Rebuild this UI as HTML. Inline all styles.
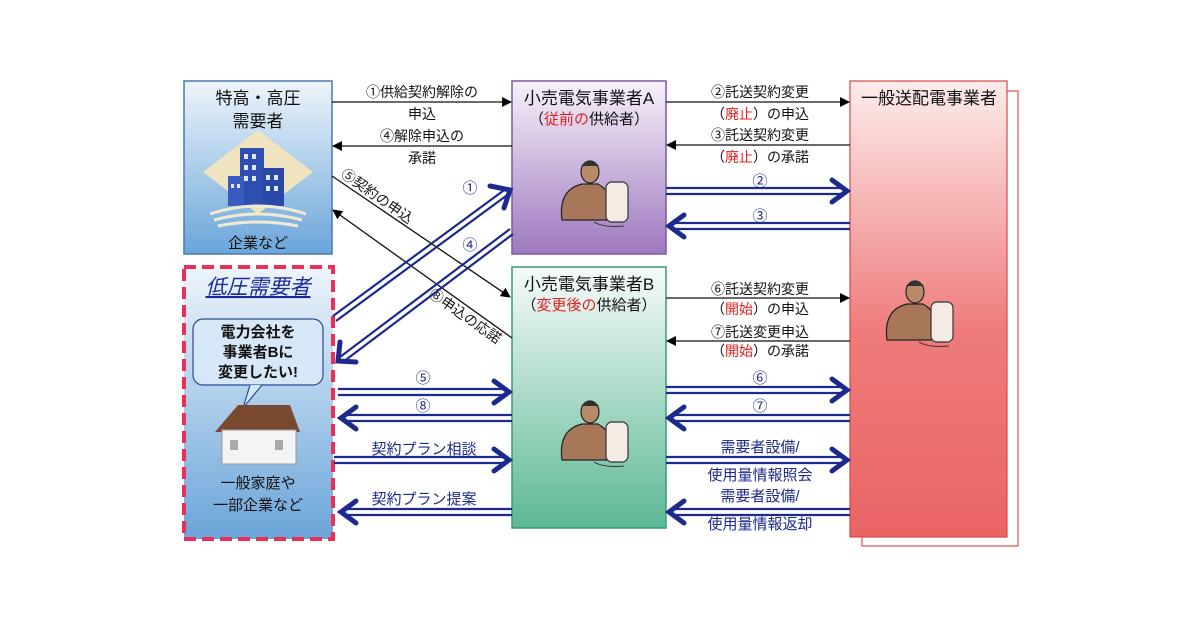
<!DOCTYPE html>
<html><head><meta charset="utf-8"><style>
html,body{margin:0;padding:0;background:#fff;width:1200px;height:630px;overflow:hidden}
svg{display:block}
text{font-family:"Liberation Sans","Noto Sans CJK JP",sans-serif}
</style></head><body>
<svg width="1200" height="630" viewBox="0 0 1200 630" xmlns="http://www.w3.org/2000/svg">
<defs>
<linearGradient id="gBlue" x1="0" y1="0" x2="0" y2="1"><stop offset="0" stop-color="#eef5fb"/><stop offset="1" stop-color="#6aa5da"/></linearGradient>
<linearGradient id="gPur" x1="0" y1="0" x2="0" y2="1"><stop offset="0" stop-color="#f7f2fa"/><stop offset="1" stop-color="#9e78bf"/></linearGradient>
<linearGradient id="gGrn" x1="0" y1="0" x2="0" y2="1"><stop offset="0" stop-color="#f6fbf9"/><stop offset="1" stop-color="#5cb894"/></linearGradient>
<linearGradient id="gRed" x1="0" y1="0" x2="0" y2="1"><stop offset="0" stop-color="#fdecec"/><stop offset="0.55" stop-color="#ef7b7b"/><stop offset="1" stop-color="#ea6464"/></linearGradient>
<marker id="ah" markerWidth="10" markerHeight="10" refX="9" refY="5" orient="auto" markerUnits="userSpaceOnUse"><path d="M0,0 L10,5 L0,10 z" fill="#000"/></marker>
<g id="person">
<ellipse cx="0" cy="-28" rx="9" ry="11" fill="#b88a68" stroke="#222" stroke-width="1.2"/>
<path d="M-9,-34 q9,-10 18,0" fill="#333"/>
<path d="M-28,20 q-4,-30 20,-36 l16,0 q18,10 14,36 z" fill="#a8775a" stroke="#222" stroke-width="1.2"/>
<rect x="16" y="-18" width="22" height="40" rx="6" fill="#f4ece4" stroke="#333" stroke-width="1.2"/>
<path d="M4,22 q10,6 30,4" fill="none" stroke="#333" stroke-width="1"/>
</g>
</defs>

<rect x="184" y="81" width="148" height="173" fill="url(#gBlue)" stroke="#4a78b0" stroke-width="1.5"/>
<rect x="512" y="81" width="154" height="173" fill="url(#gPur)" stroke="#7a5aa0" stroke-width="1.5"/>
<rect x="512" y="267" width="154" height="261" fill="url(#gGrn)" stroke="#3a9a78" stroke-width="1.5"/>
<rect x="862" y="91" width="156" height="455" fill="#fff" stroke="#e05050" stroke-width="1.2"/>
<rect x="850" y="81" width="157" height="456" fill="url(#gRed)" stroke="#d84848" stroke-width="1.2"/>
<rect x="184" y="267" width="149" height="272" fill="url(#gBlue)" stroke="#e8305a" stroke-width="4" stroke-dasharray="12,6"/>

<g font-size="17" fill="#111" text-anchor="middle">
<text x="258" y="104">特高・高圧</text>
<text x="258" y="127">需要者</text>
<text x="589" y="104">小売電気事業者A</text>
<text x="589" y="290">小売電気事業者B</text>
<text x="929" y="104">一般送配電事業者</text>
</g>
<g font-size="15" fill="#111" text-anchor="middle">
<text x="589" y="124">（<tspan fill="#e02020">従前の</tspan>供給者）</text>
<text x="589" y="310">（<tspan fill="#e02020">変更後の</tspan>供給者）</text>
<text x="258" y="248">企業など</text>
</g>

<polygon points="258,130 313,172 258,214 203,172" fill="#efe3c0"/>
<rect x="240" y="148" width="24" height="58" fill="#2e4fb0"/>
<rect x="228" y="176" width="16" height="30" fill="#3a5cc0"/>
<rect x="262" y="168" width="22" height="38" fill="#2a48a8"/>
<g fill="#dfe8ff"><rect x="244" y="154" width="4" height="5"/><rect x="252" y="154" width="4" height="5"/><rect x="244" y="165" width="4" height="5"/><rect x="252" y="165" width="4" height="5"/><rect x="244" y="176" width="4" height="5"/><rect x="252" y="176" width="4" height="5"/><rect x="266" y="175" width="4" height="5"/><rect x="274" y="175" width="4" height="5"/><rect x="266" y="186" width="4" height="5"/><rect x="274" y="186" width="4" height="5"/><rect x="231" y="184" width="3" height="4"/><rect x="237" y="184" width="3" height="4"/></g>
<path d="M210,214 q48,-16 96,0 M214,220 q44,-12 88,0 M218,226 q40,-8 80,0" stroke="#f0ead0" stroke-width="3" fill="none"/>

<text x="258" y="294" font-size="21" font-style="italic" fill="#1a2a9c" text-anchor="middle" text-decoration="underline">低圧需要者</text>
<rect x="193" y="319" width="130" height="66" rx="10" fill="#d6e8f8" stroke="#2a4a9c" stroke-width="1.2"/>
<path d="M250,385 L243,408 L262,385" fill="#d6e8f8" stroke="#2a4a9c" stroke-width="1.2"/>
<g font-size="15" font-weight="bold" fill="#111" text-anchor="middle">
<text x="258" y="337">電力会社を</text><text x="258" y="357">事業者Bに</text><text x="258" y="377">変更したい!</text>
</g>
<polygon points="215,432 238,405 290,405 300,432" fill="#7a4a30"/>
<rect x="222" y="430" width="74" height="34" fill="#f4f4f4" stroke="#999"/>
<rect x="230" y="440" width="8" height="10" fill="#aaa"/><rect x="275" y="440" width="8" height="10" fill="#aaa"/>
<g font-size="15" fill="#111" text-anchor="middle"><text x="258" y="488">一般家庭や</text><text x="258" y="510">一部企業など</text></g>

<use href="#person" transform="translate(590,200)"/>
<use href="#person" transform="translate(590,440)"/>
<use href="#person" transform="translate(915,320)"/>

<g stroke="#111" stroke-width="1.3" marker-end="url(#ah)">
<line x1="332" y1="102" x2="511" y2="102"/>
<line x1="512" y1="146" x2="333" y2="146"/>
<line x1="666" y1="102" x2="849" y2="102"/>
<line x1="850" y1="145" x2="667" y2="145"/>
<line x1="666" y1="298" x2="849" y2="298"/>
<line x1="850" y1="341" x2="667" y2="341"/>
<line x1="332" y1="176" x2="510" y2="297"/>
<line x1="512" y1="338" x2="333" y2="210"/>
</g>
<g font-size="14" fill="#111" text-anchor="middle">
<text x="422" y="97">①供給契約解除の</text><text x="422" y="119">申込</text>
<text x="422" y="141">④解除申込の</text><text x="422" y="163">承諾</text>
<text x="760" y="97">②託送契約変更</text><text x="760" y="119">（<tspan fill="#e02020">廃止</tspan>）の申込</text>
<text x="760" y="140">③託送契約変更</text><text x="760" y="162">（<tspan fill="#e02020">廃止</tspan>）の承諾</text>
<text x="760" y="294">⑥託送契約変更</text><text x="760" y="314">（<tspan fill="#e02020">開始</tspan>）の申込</text>
<text x="760" y="337">⑦託送変更申込</text><text x="760" y="356">（<tspan fill="#e02020">開始</tspan>）の承諾</text>
</g>
<text font-size="14" fill="#111" transform="translate(340,176) rotate(35)">⑤契約の申込</text>
<text font-size="14" fill="#111" transform="translate(428,296) rotate(35)">⑧申込の応諾</text>

<g stroke="#1c2a8e" stroke-width="2.2" fill="none">
<path d="M666,188 H846 M666,194 H846"/><polyline points="832,180 847,191 832,202" stroke-width="5" stroke-linecap="round"/>
<path d="M670,223 H850 M670,229 H850"/><polyline points="684,215 669,226 684,237" stroke-width="5" stroke-linecap="round"/>
<path d="M666,387 H846 M666,393 H846"/><polyline points="832,379 847,390 832,401" stroke-width="5" stroke-linecap="round"/>
<path d="M670,415 H850 M670,421 H850"/><polyline points="684,407 669,418 684,429" stroke-width="5" stroke-linecap="round"/>
<path d="M666,457 H846 M666,463 H846"/><polyline points="832,449 847,460 832,471" stroke-width="5" stroke-linecap="round"/>
<path d="M670,509 H850 M670,515 H850"/><polyline points="684,501 669,512 684,523" stroke-width="5" stroke-linecap="round"/>
<path d="M338,389 H508 M338,395 H508"/><polyline points="494,381 509,392 494,403" stroke-width="5" stroke-linecap="round"/>
<path d="M342,415 H512 M342,421 H512"/><polyline points="356,407 341,418 356,429" stroke-width="5" stroke-linecap="round"/>
<path d="M334,457 H508 M334,463 H508"/><polyline points="494,449 509,460 494,471" stroke-width="5" stroke-linecap="round"/>
<path d="M342,509 H512 M342,515 H512"/><polyline points="356,501 341,512 356,523" stroke-width="5" stroke-linecap="round"/>
<path d="M333,316 L507,188 M336,321 L510,193"/><polyline points="490,186 510,190 504,208" stroke-width="5" stroke-linecap="round"/>
<path d="M510,229 L340,357 M513,234 L343,362"/><polyline points="340,342 338,361 356,362" stroke-width="5" stroke-linecap="round"/>
</g>
<g font-size="15" fill="#1c2a8e" text-anchor="middle">
<text x="760" y="186">②</text><text x="760" y="221">③</text>
<text x="760" y="383">⑥</text><text x="760" y="411">⑦</text>
<text x="423" y="383">⑤</text><text x="423" y="411">⑧</text>
<text x="470" y="193">①</text><text x="470" y="250">④</text>
<text x="760" y="452">需要者設備/</text><text x="760" y="480">使用量情報照会</text>
<text x="760" y="501">需要者設備/</text><text x="760" y="529">使用量情報返却</text>
<text x="424" y="454">契約プラン相談</text><text x="424" y="504">契約プラン提案</text>
</g>
</svg>
</body></html>
